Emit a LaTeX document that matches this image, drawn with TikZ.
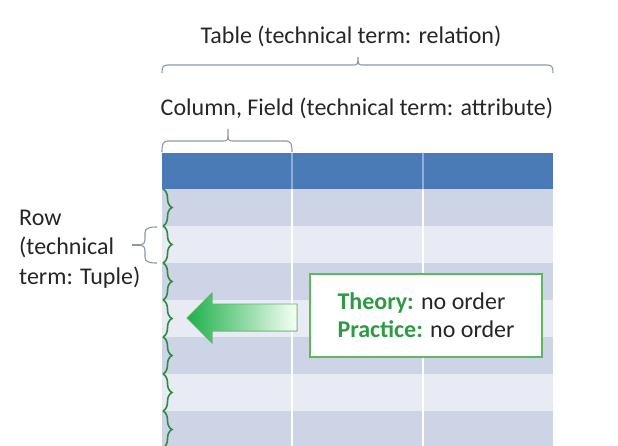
\documentclass[tikz,border=0pt]{standalone}
\usepackage{fontspec}
\setmainfont{Carlito}
\usetikzlibrary{decorations.pathreplacing,positioning}

\definecolor{hdrblue}{HTML}{4A7BB7}
\definecolor{hdrline}{HTML}{8FAFDA}
\definecolor{rowdark}{HTML}{CDD4E6}
\definecolor{rowlight}{HTML}{E8EBF3}
\definecolor{bracegreen}{HTML}{2E8B3E}
\definecolor{textgreen}{HTML}{2E9A45}
\definecolor{boxgreen}{HTML}{5DB85E}
\definecolor{arrowgreen}{HTML}{1DB04A}
\definecolor{bracegray}{HTML}{8A96A8}
\definecolor{textgray}{HTML}{262626}

\begin{document}
\begin{tikzpicture}[x=1pt, y=1pt]
\tikzstyle{cell} = [rectangle, minimum width=391pt, minimum height=37pt, inner sep=0pt, outer sep=0pt]
\tikzstyle{lbl} = [font=\fontsize{24}{29.5}\selectfont, inner sep=0pt, text=textgray]
\tikzstyle{graybrace} = [draw=bracegray, line width=1.1pt]
\tikzstyle{greenbrace} = [draw=bracegreen, line width=1.6pt, decorate, decoration={brace, amplitude=9pt}]

\useasboundingbox (0,0) rectangle (618,445);

% table: header and rows
\node[cell, fill=hdrblue, minimum height=36pt] (hdr) at (357.5,274) {};
\foreach \i in {1,...,7} {
  \ifodd\i \def\rowcol{rowdark}\else\def\rowcol{rowlight}\fi
  \node[cell, fill=\rowcol] (r\i) at (357.5,{256-37*(\i-0.5)}) {};
}

% column lines
\coordinate (c1) at (292,292);
\coordinate (c2) at (423,292);
\draw[hdrline, line width=1.2pt] (c1) -- (c1 |- r1.north);
\draw[hdrline, line width=1.2pt] (c2) -- (c2 |- r1.north);
\draw[white, line width=1.2pt] (c1 |- r1.north) -- (c1 |- r7.south);
\draw[white, line width=1.2pt] (c2 |- r1.north) -- (c2 |- r7.south);

% labels
\node[lbl] (tbl) at (351,409) {Table (technical term: relation)};
\node[lbl] (col) at (357,337) {Column, Field (technical term: attribute)};
\node[lbl, align=left, anchor=west] (row) at (19,196) {Row\\(technical\\term: Tuple)};

% braces
\coordinate (tl) at (162,372);
\coordinate (tr) at (553,372);
\draw[graybrace] (tl) .. controls (162,378) and (163,380) .. (168,380) -- (353,380)
  .. controls (357,380) and (358,381) .. (358,384) -- (358,388);
\draw[graybrace] (358,384) .. controls (358,381) and (359,380) .. (363,380) -- (547,380)
  .. controls (552,380) and (553,378) .. (tr);
\coordinate (cl) at (162,293);
\coordinate (cr) at (292,293);
\draw[graybrace] (cl) .. controls (162,301) and (163,304) .. (168,304) -- (223,304)
  .. controls (227,304) and (228,305) .. (228,309) -- (228,316);
\draw[graybrace] (228,309) .. controls (228,305) and (229,304) .. (233,304) -- (286,304)
  .. controls (291,304) and (292,301) .. (cr);
\coordinate (rtip) at (132,200);
\draw[graybrace]
  (157,218) .. controls (149,218) and (145,217) .. (145,212) -- (145,206)
  .. controls (145,202) and (143,200) .. (140,200)
  .. controls (143,200) and (145,198) .. (145,194) -- (145,188)
  .. controls (145,183) and (149,182) .. (157,182);
\draw[graybrace] (140,200) -- (rtip);
\foreach \i in {1,...,7}
  \draw[greenbrace] ([xshift=1pt]r\i.north west) -- ([xshift=1pt]r\i.south west);

% note box
\node[draw=boxgreen, line width=1.2pt, fill=white, minimum width=232pt, minimum height=83pt,
      align=left, font=\fontsize{24}{28}\selectfont, text=textgray] (note) at (426,129.5)
  {\textcolor{textgreen}{\textbf{Theory:}} no order\\\textcolor{textgreen}{\textbf{Practice:}} no order};

% arrow
\filldraw[draw=boxgreen, line width=0.8pt, left color=arrowgreen, middle color=arrowgreen!55, right color=green!3]
  (297,141) -- (212,141) -- (212,152) -- (187,127) -- (212,102) -- (212,114) -- (297,114) -- cycle;
\end{tikzpicture}
\end{document}
